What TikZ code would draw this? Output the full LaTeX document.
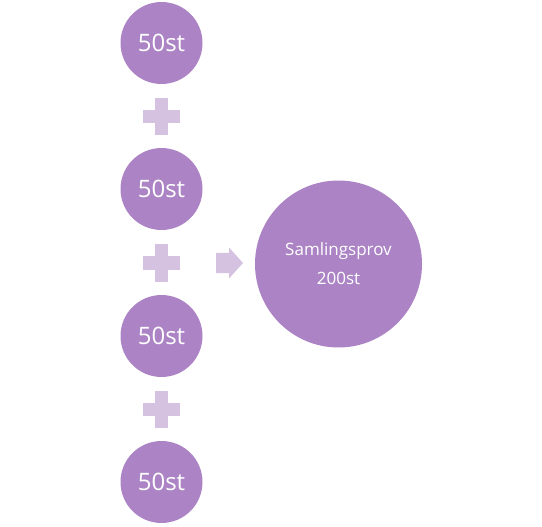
\documentclass[tikz,border=0pt]{standalone}
\usepackage{fontspec}
\setmainfont{Open Sans}
\definecolor{circ}{HTML}{AC84C5}
\definecolor{light}{HTML}{D5C2E1}
\begin{document}
\begin{tikzpicture}[x=1pt,y=-1pt,
  small/.style={circle,fill=circ,minimum size=82pt,inner sep=0pt,text=white,font=\fontsize{24}{28}\selectfont},
  big/.style={circle,fill=circ,minimum size=167pt,inner sep=0pt,text=white,align=center,font=\fontsize{17}{29}\selectfont},
  plussign/.pic={\fill[light] (-6.5,-18.5) rectangle (6.5,18.5); \fill[light] (-18.5,-6.5) rectangle (18.5,6.5);}
]
\useasboundingbox (0,0) rectangle (542,527);
\node[small] (c1) at (161.5,43) {50st};
\node[small] (c2) at (161.5,189) {50st};
\node[small] (c3) at (161.5,336) {50st};
\node[small] (c4) at (161.5,482) {50st};
\pic (p1) at (161.5,117) {plussign};
\pic (p2) at (161.5,263) {plussign};
\pic (p3) at (161.5,409) {plussign};
\coordinate (arr) at (216,263);
\fill[light] (arr) ++(0,-10) -- ++(13,0) -- ++(0,-5.5) -- ++(14,15.5) -- ++(-14,15.5) -- ++(0,-5.5) -- ++(-13,0) -- cycle;
\node[big] (s) at (338.5,264) {Samlingsprov\\200st};
\end{tikzpicture}
\end{document}
